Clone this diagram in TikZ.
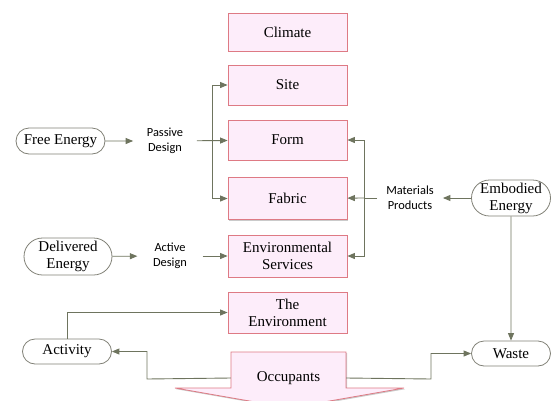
\documentclass[tikz,border=0pt]{standalone}
\usepackage{fontspec}
\setmainfont{Liberation Serif}
\newfontfamily\labelfont{Carlito}
\usetikzlibrary{arrows.meta,shapes.misc,shadows}

\definecolor{boxfill}{RGB}{253,237,250}
\definecolor{boxline}{RGB}{222,122,132}
\definecolor{connline}{RGB}{110,116,94}
\definecolor{pillline}{RGB}{128,128,118}

\tikzset{
  stagebox/.style={draw=boxline, fill=boxfill, line width=0.8pt,
    minimum width=119pt, inner sep=2pt, align=center,
    font=\fontsize{15}{17}\selectfont,
    drop shadow={shadow xshift=1.2pt, shadow yshift=-1.2pt, fill=black!35, opacity=0.6}},
  pill/.style={draw=pillline, fill=white, line width=0.8pt, rounded rectangle,
    inner sep=1pt, align=center, font=\fontsize{15}{17}\selectfont},
  tag/.style={align=center, inner ysep=1pt, font=\labelfont\fontsize{12.4}{15}\selectfont},
  conn/.style={draw=connline, line width=0.9pt},
  arr/.style={conn, -{Triangle[length=7.5pt,width=6pt]}},
}

\begin{document}
\begin{tikzpicture}[x=1pt,y=-1pt]
  \useasboundingbox (0,0) rectangle (552,400);

  % central column of design factors
  \node[stagebox, minimum height=38pt] (climate) at (287.5,32) {Climate};
  \node[stagebox, minimum height=40pt] (site)    at (287.5,85) {Site};
  \node[stagebox, minimum height=40pt] (form)    at (287.5,140) {Form};
  \node[stagebox, minimum height=42pt] (fabric)  at (287.5,198.5) {Fabric};
  \node[stagebox, minimum height=42pt] (envs)    at (287.5,256) {Environmental\\Services};
  \node[stagebox, minimum height=41pt] (envt)    at (287.5,312.5) {The\\Environment};

  % occupants: downward block arrow
  \fill[black!35, opacity=0.6, shift={(1.2,1.2)}]
    (231,352) -- (346,352) -- (346,388) -- (404,388) -- (289.5,408)
    -- (175,388) -- (231,388) -- cycle;
  \draw[draw=boxline, fill=boxfill, line width=0.8pt]
    (231,352) -- (346,352) -- (346,388) -- (404,388) -- (289.5,408)
    -- (175,388) -- (231,388) -- cycle;
  \node[minimum width=115pt, minimum height=40pt, inner sep=0pt,
        font=\fontsize{15}{17}\selectfont] (occ) at (288.5,378) {Occupants};

  % energy sources and outcomes
  \node[pill, minimum width=91pt, minimum height=26pt] (free)   at (60.5,141) {Free Energy};
  \node[pill, minimum width=90pt, minimum height=37pt] (deliv)  at (68,256.5) {Delivered\\Energy};
  \node[pill, minimum width=91pt, minimum height=25pt] (act)    at (67,351.5) {Activity};
  \node[pill, minimum width=81pt, minimum height=36pt] (emb)    at (511,198) {Embodied\\Energy};
  \node[pill, minimum width=81pt, minimum height=25pt] (waste)  at (511,353.5) {Waste};

  % connector labels
  \node[tag, inner xsep=13.5pt] (pd) at (165,141) {Passive\\Design};
  \node[tag, inner xsep=15.5pt] (ad) at (170,256) {Active\\Design};
  \node[tag, inner xsep=9pt]    (mp) at (410,198) {Materials\\Products};

  % junction points
  \coordinate (pj) at (212,141);
  \coordinate (mj) at (364,198);
  \coordinate (ol) at (147,379);
  \coordinate (or) at (431,379);

  % passive design branch
  \draw[arr] (free) -- (pd);
  \draw[arr] (pd) -- (form);
  \draw[arr] (pj) |- (site);
  \draw[arr] (pj) |- (fabric);

  % active design branch
  \draw[arr] (deliv) -- (ad);
  \draw[arr] (ad) -- (envs);

  % materials and products branch
  \draw[arr] (emb) -- (mp);
  \draw[conn] (mp) -- (mj);
  \draw[arr] (mj) |- (form);
  \draw[arr] (mj) -- (fabric);
  \draw[arr] (mj) |- (envs);

  % embodied energy to waste
  \draw[arr] (emb) -- (waste);

  % activity and occupants
  \draw[arr] (act) |- (envt);
  \draw[arr] (occ.west) -- (ol) |- (act);
  \draw[arr] (occ.east) -- (or) |- (waste);
\end{tikzpicture}
\end{document}
